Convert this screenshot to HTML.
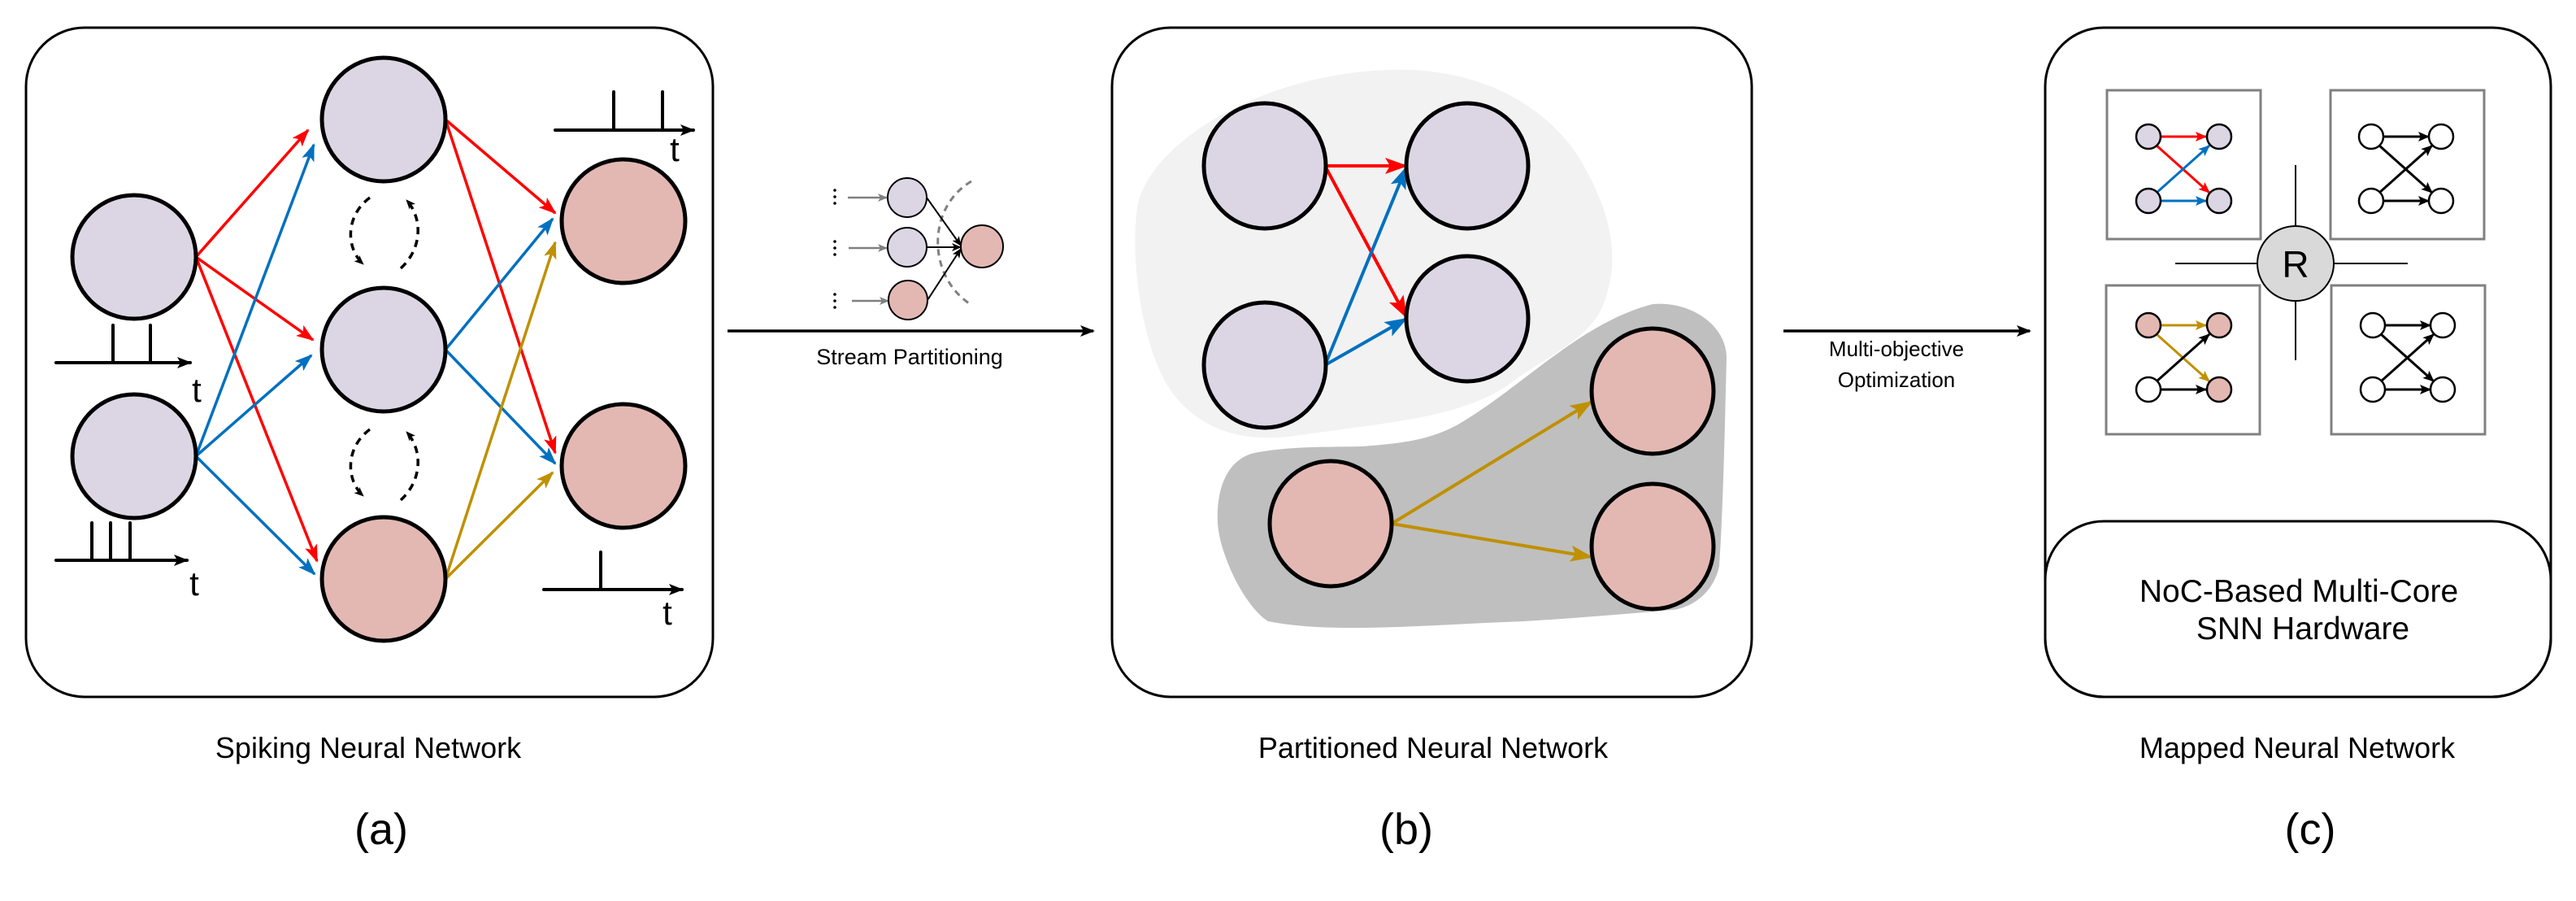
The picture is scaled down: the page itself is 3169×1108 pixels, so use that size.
<!DOCTYPE html>
<html><head><meta charset="utf-8"><style>
html,body{margin:0;padding:0;background:#fff;}
svg{display:block;}
text{font-family:"Liberation Sans",Arial,sans-serif;fill:#000;}
</style></head><body>
<svg width="3169" height="1108" viewBox="0 0 3169 1108" xmlns="http://www.w3.org/2000/svg">
<defs>
<marker id="ar" markerUnits="userSpaceOnUse" markerWidth="22" markerHeight="16" refX="20" refY="8" orient="auto"><path d="M0,0 L22,8 L0,16 L5,8 Z" fill="#ff0000"/></marker>
<marker id="ab" markerUnits="userSpaceOnUse" markerWidth="22" markerHeight="16" refX="20" refY="8" orient="auto"><path d="M0,0 L22,8 L0,16 L5,8 Z" fill="#0070c0"/></marker>
<marker id="ag" markerUnits="userSpaceOnUse" markerWidth="22" markerHeight="16" refX="20" refY="8" orient="auto"><path d="M0,0 L22,8 L0,16 L5,8 Z" fill="#bf9000"/></marker>
<marker id="ar2" markerUnits="userSpaceOnUse" markerWidth="28" markerHeight="20" refX="26" refY="10" orient="auto"><path d="M0,0 L28,10 L0,20 L6,10 Z" fill="#ff0000"/></marker>
<marker id="ab2" markerUnits="userSpaceOnUse" markerWidth="28" markerHeight="20" refX="26" refY="10" orient="auto"><path d="M0,0 L28,10 L0,20 L6,10 Z" fill="#0070c0"/></marker>
<marker id="ag2" markerUnits="userSpaceOnUse" markerWidth="28" markerHeight="20" refX="26" refY="10" orient="auto"><path d="M0,0 L28,10 L0,20 L6,10 Z" fill="#bf9000"/></marker>
<marker id="ak" markerUnits="userSpaceOnUse" markerWidth="18" markerHeight="14" refX="16" refY="7" orient="auto"><path d="M0,0 L18,7 L0,14 L4,7 Z" fill="#000"/></marker>
<marker id="aks" markerUnits="userSpaceOnUse" markerWidth="12" markerHeight="10" refX="11" refY="5" orient="auto"><path d="M0,0 L12,5 L0,10 L3,5 Z" fill="#000"/></marker>
<marker id="agr" markerUnits="userSpaceOnUse" markerWidth="12" markerHeight="10" refX="11" refY="5" orient="auto"><path d="M0,0 L12,5 L0,10 L3,5 Z" fill="#808080"/></marker>
<marker id="am" markerUnits="userSpaceOnUse" markerWidth="14" markerHeight="12" refX="13" refY="6" orient="auto"><path d="M0,0 L14,6 L0,12 L3,6 Z" fill="#000"/></marker>
<marker id="ams" markerUnits="userSpaceOnUse" markerWidth="14" markerHeight="12" refX="13" refY="6" orient="auto"><path d="M0,0 L14,6 L0,12 L3,6 Z" fill="#ff0000"/></marker>
<marker id="amb" markerUnits="userSpaceOnUse" markerWidth="14" markerHeight="12" refX="13" refY="6" orient="auto"><path d="M0,0 L14,6 L0,12 L3,6 Z" fill="#0070c0"/></marker>
<marker id="amg" markerUnits="userSpaceOnUse" markerWidth="14" markerHeight="12" refX="13" refY="6" orient="auto"><path d="M0,0 L14,6 L0,12 L3,6 Z" fill="#bf9000"/></marker>
</defs>

<rect x="32" y="34" width="845" height="823" rx="72" ry="72" fill="none" stroke="#000" stroke-width="3"/>
<g stroke-width="3.5" fill="none">
<line x1="241" y1="316" x2="379" y2="160" stroke="#ff0000" marker-end="url(#ar)"/>
<line x1="241" y1="316" x2="385" y2="418" stroke="#ff0000" marker-end="url(#ar)"/>
<line x1="241" y1="316" x2="390" y2="690" stroke="#ff0000" marker-end="url(#ar)"/>
<line x1="241" y1="561" x2="386" y2="178" stroke="#0070c0" marker-end="url(#ab)"/>
<line x1="241" y1="561" x2="383" y2="437" stroke="#0070c0" marker-end="url(#ab)"/>
<line x1="241" y1="561" x2="387" y2="706" stroke="#0070c0" marker-end="url(#ab)"/>
<line x1="548" y1="147" x2="683" y2="262" stroke="#ff0000" marker-end="url(#ar)"/>
<line x1="548" y1="147" x2="683" y2="557" stroke="#ff0000" marker-end="url(#ar)"/>
<line x1="548" y1="430" x2="680" y2="269" stroke="#0070c0" marker-end="url(#ab)"/>
<line x1="548" y1="430" x2="683" y2="570" stroke="#0070c0" marker-end="url(#ab)"/>
<line x1="548" y1="712" x2="683" y2="298" stroke="#bf9000" marker-end="url(#ag)"/>
<line x1="548" y1="712" x2="680" y2="581" stroke="#bf9000" marker-end="url(#ag)"/>
</g>
<g stroke="#000" stroke-width="5">
<circle cx="165" cy="316" r="76" fill="#dcd6e4"/>
<circle cx="165" cy="561" r="76" fill="#dcd6e4"/>
<circle cx="472" cy="147" r="76" fill="#dcd6e4"/>
<circle cx="472" cy="430" r="76" fill="#dcd6e4"/>
<circle cx="472" cy="712" r="76" fill="#e3b8b3"/>
<circle cx="767" cy="272" r="76" fill="#e3b8b3"/>
<circle cx="767" cy="573" r="76" fill="#e3b8b3"/>
</g>
<g stroke="#000" stroke-width="3.5" fill="none" stroke-dasharray="9,7">
<path d="M455,243 C425,265 425,305 447,325" marker-end="url(#aks)"/>
<path d="M493,330 C520,305 520,268 500,246" marker-end="url(#aks)"/>
<path d="M455,528 C425,550 425,590 447,610" marker-end="url(#aks)"/>
<path d="M493,615 C520,590 520,553 500,531" marker-end="url(#aks)"/>
</g>
<g stroke="#000" stroke-width="4" fill="none" stroke-linecap="round">
<line x1="69" y1="446" x2="234" y2="446" marker-end="url(#ak)"/>
<line x1="139" y1="446" x2="139" y2="400"/><line x1="185" y1="446" x2="185" y2="400"/>
<line x1="69" y1="689" x2="230" y2="689" marker-end="url(#ak)"/>
<line x1="113" y1="689" x2="113" y2="643"/><line x1="136" y1="689" x2="136" y2="643"/><line x1="160" y1="689" x2="160" y2="643"/>
<line x1="683" y1="160" x2="853" y2="160" marker-end="url(#ak)"/>
<line x1="755" y1="160" x2="755" y2="113"/><line x1="815" y1="160" x2="815" y2="113"/>
<line x1="669" y1="725" x2="839" y2="725" marker-end="url(#ak)"/>
<line x1="739" y1="725" x2="739" y2="679"/>
</g>
<g font-size="42" text-anchor="middle">
<text x="242" y="494">t</text>
<text x="239" y="732">t</text>
<text x="830" y="198">t</text>
<text x="821" y="768">t</text>
</g>

<line x1="895" y1="407" x2="1345" y2="407" stroke="#000" stroke-width="3.5" marker-end="url(#ak)"/>
<text x="1119" y="448" font-size="27" text-anchor="middle">Stream Partitioning</text>
<g fill="#000">
<circle cx="1027" cy="234" r="1.8"/><circle cx="1027" cy="242" r="1.8"/><circle cx="1027" cy="250" r="1.8"/>
<circle cx="1027" cy="297" r="1.8"/><circle cx="1027" cy="305" r="1.8"/><circle cx="1027" cy="313" r="1.8"/>
<circle cx="1027" cy="362" r="1.8"/><circle cx="1027" cy="370" r="1.8"/><circle cx="1027" cy="378" r="1.8"/>
</g>
<g stroke="#808080" stroke-width="2.5">
<line x1="1043" y1="243" x2="1091" y2="243" marker-end="url(#agr)"/>
<line x1="1044" y1="305" x2="1091" y2="305" marker-end="url(#agr)"/>
<line x1="1048" y1="370" x2="1093" y2="370" marker-end="url(#agr)"/>
</g>
<path d="M1195,223 C1140,255 1140,340 1195,375" fill="none" stroke="#808080" stroke-width="3" stroke-dasharray="8,6"/>
<g stroke="#000" stroke-width="2" fill="none">
<line x1="1140" y1="243" x2="1182" y2="302" marker-end="url(#aks)"/>
<line x1="1140" y1="304" x2="1182" y2="304" marker-end="url(#aks)"/>
<line x1="1141" y1="369" x2="1182" y2="306" marker-end="url(#aks)"/>
</g>
<g stroke="#000" stroke-width="2">
<circle cx="1116" cy="243" r="24" fill="#dcd6e4"/>
<circle cx="1116" cy="304" r="24" fill="#dcd6e4"/>
<circle cx="1117" cy="369" r="24" fill="#e3b8b3"/>
<circle cx="1208" cy="303" r="26" fill="#e3b8b3"/>
</g>

<rect x="1368" y="34" width="787" height="823" rx="72" ry="72" fill="none" stroke="#000" stroke-width="3"/>
<path d="M1709,86 C1820,82 1900,130 1940,190 C1990,270 1992,330 1970,380 C1950,420 1900,440 1860,470 C1800,515 1700,520 1600,535 C1520,548 1470,522 1440,480 C1400,420 1390,300 1400,250 C1420,170 1560,90 1709,86 Z" fill="#f2f2f2"/>
<path d="M2033,374 C2080,370 2124,400 2124,440 C2122,520 2120,620 2115,696 C2108,730 2080,748 2057,750 C2000,755 1940,760 1875,764 C1760,768 1640,780 1560,764 C1530,745 1500,680 1498,643 C1496,600 1510,565 1543,557 C1590,548 1640,550 1676,549 C1730,545 1760,540 1792,523 C1840,495 1880,460 1917,434 C1950,410 1990,385 2033,374 Z" fill="#bfbfbf"/>
<g stroke-width="4" fill="none">
<line x1="1630" y1="204" x2="1730" y2="204" stroke="#ff0000" marker-end="url(#ar2)"/>
<line x1="1630" y1="204" x2="1730" y2="390" stroke="#ff0000" marker-end="url(#ar2)"/>
<line x1="1630" y1="449" x2="1730" y2="206" stroke="#0070c0" marker-end="url(#ab2)"/>
<line x1="1630" y1="449" x2="1730" y2="392" stroke="#0070c0" marker-end="url(#ab2)"/>
<line x1="1712" y1="644" x2="1958" y2="494" stroke="#bf9000" marker-end="url(#ag2)"/>
<line x1="1712" y1="644" x2="1958" y2="685" stroke="#bf9000" marker-end="url(#ag2)"/>
</g>
<g stroke="#000" stroke-width="5">
<ellipse cx="1556" cy="204" rx="75" ry="77" fill="#dcd6e4"/>
<ellipse cx="1805" cy="204" rx="75" ry="77" fill="#dcd6e4"/>
<ellipse cx="1805" cy="392" rx="75" ry="77" fill="#dcd6e4"/>
<ellipse cx="1556" cy="449" rx="75" ry="77" fill="#dcd6e4"/>
<ellipse cx="1637" cy="644" rx="75" ry="77" fill="#e3b8b3"/>
<ellipse cx="2033" cy="481" rx="75" ry="77" fill="#e3b8b3"/>
<ellipse cx="2033" cy="672" rx="75" ry="77" fill="#e3b8b3"/>
</g>

<line x1="2194" y1="407" x2="2497" y2="407" stroke="#000" stroke-width="3.5" marker-end="url(#ak)"/>
<text x="2333" y="438" font-size="26" text-anchor="middle">Multi-objective</text>
<text x="2333" y="476" font-size="26" text-anchor="middle">Optimization</text>

<rect x="2516" y="34" width="622" height="823" rx="72" ry="72" fill="none" stroke="#000" stroke-width="3"/>
<rect x="2516" y="641" width="622" height="216" rx="72" ry="72" fill="none" stroke="#000" stroke-width="3"/>
<text x="2828" y="740" font-size="39" text-anchor="middle">NoC-Based Multi-Core</text>
<text x="2833" y="786" font-size="39" text-anchor="middle">SNN Hardware</text>
<g fill="#fff" stroke="#808080" stroke-width="3">
<rect x="2592" y="111" width="189" height="183"/>
<rect x="2867" y="111" width="189" height="183"/>
<rect x="2591" y="351" width="189" height="183"/>
<rect x="2868" y="351" width="189" height="183"/>
</g>
<g stroke="#000" stroke-width="2">
<line x1="2676" y1="324" x2="2962" y2="324"/>
<line x1="2824" y1="203" x2="2824" y2="443"/>
</g>
<ellipse cx="2824" cy="324" rx="47" ry="46" fill="#d9d9d9" stroke="#000" stroke-width="2"/>
<text x="2824" y="341" font-size="46" text-anchor="middle">R</text>
<g stroke-width="3" fill="none">
<line x1="2658" y1="168" x2="2714" y2="168" stroke="#ff0000" marker-end="url(#ams)"/>
<line x1="2653" y1="179" x2="2718" y2="237" stroke="#ff0000" marker-end="url(#ams)"/>
<line x1="2653" y1="237" x2="2718" y2="179" stroke="#0070c0" marker-end="url(#amb)"/>
<line x1="2658" y1="247" x2="2714" y2="247" stroke="#0070c0" marker-end="url(#amb)"/>
<line x1="2932" y1="168" x2="2988" y2="168" stroke="#000" marker-end="url(#am)"/>
<line x1="2927" y1="179" x2="2992" y2="237" stroke="#000" marker-end="url(#am)"/>
<line x1="2927" y1="237" x2="2992" y2="179" stroke="#000" marker-end="url(#am)"/>
<line x1="2932" y1="247" x2="2988" y2="247" stroke="#000" marker-end="url(#am)"/>
<line x1="2658" y1="400" x2="2714" y2="400" stroke="#bf9000" marker-end="url(#amg)"/>
<line x1="2653" y1="411" x2="2718" y2="469" stroke="#bf9000" marker-end="url(#amg)"/>
<line x1="2653" y1="469" x2="2718" y2="411" stroke="#000" marker-end="url(#am)"/>
<line x1="2658" y1="479" x2="2714" y2="479" stroke="#000" marker-end="url(#am)"/>
<line x1="2934" y1="400" x2="2990" y2="400" stroke="#000" marker-end="url(#am)"/>
<line x1="2929" y1="411" x2="2994" y2="469" stroke="#000" marker-end="url(#am)"/>
<line x1="2929" y1="469" x2="2994" y2="411" stroke="#000" marker-end="url(#am)"/>
<line x1="2934" y1="479" x2="2990" y2="479" stroke="#000" marker-end="url(#am)"/>
</g>
<g stroke="#000" stroke-width="2.5">
<circle cx="2643" cy="168" r="15" fill="#dcd6e4"/><circle cx="2730" cy="168" r="15" fill="#dcd6e4"/>
<circle cx="2643" cy="247" r="15" fill="#dcd6e4"/><circle cx="2730" cy="247" r="15" fill="#dcd6e4"/>
<circle cx="2917" cy="168" r="15" fill="#fff"/><circle cx="3003" cy="168" r="15" fill="#fff"/>
<circle cx="2917" cy="247" r="15" fill="#fff"/><circle cx="3003" cy="247" r="15" fill="#fff"/>
<circle cx="2643" cy="400" r="15" fill="#e3b8b3"/><circle cx="2730" cy="400" r="15" fill="#e3b8b3"/>
<circle cx="2643" cy="479" r="15" fill="#fff"/><circle cx="2730" cy="479" r="15" fill="#e3b8b3"/>
<circle cx="2919" cy="400" r="15" fill="#fff"/><circle cx="3005" cy="400" r="15" fill="#fff"/>
<circle cx="2919" cy="479" r="15" fill="#fff"/><circle cx="3005" cy="479" r="15" fill="#fff"/>
</g>

<g font-size="36" text-anchor="middle">
<text x="453" y="932">Spiking Neural Network</text>
<text x="1763" y="932">Partitioned Neural Network</text>
<text x="2826" y="932">Mapped Neural Network</text>
</g>
<g font-size="54" text-anchor="middle">
<text x="469" y="1038">(a)</text>
<text x="1730" y="1038">(b)</text>
<text x="2842" y="1038">(c)</text>
</g>
</svg>
</body></html>
